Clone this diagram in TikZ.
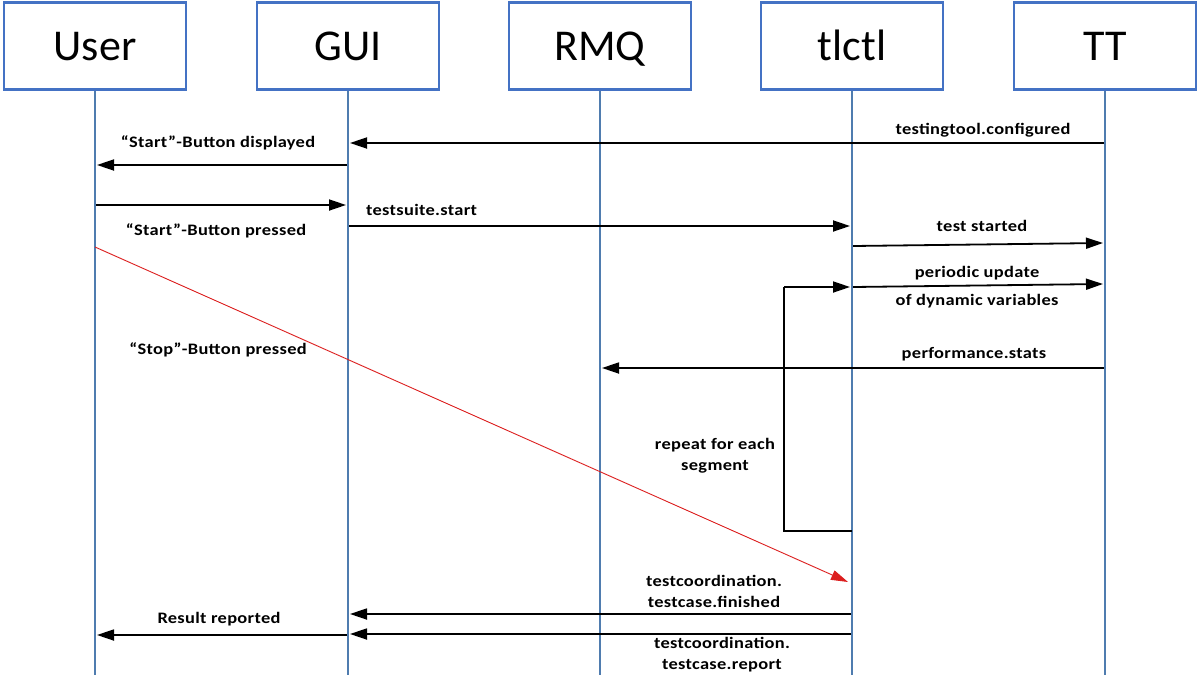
\documentclass[tikz,border=0pt]{standalone}
\usepackage{fontspec}
\setmainfont{Carlito}
\newfontfamily\lblfont[FakeStretch=1.15, LetterSpace=2]{Carlito}
\usetikzlibrary{arrows.meta}
\definecolor{boxblue}{RGB}{68,114,196}
\definecolor{lifeblue}{RGB}{79,124,175}
\definecolor{redline}{RGB}{220,30,30}
\begin{document}
\begin{tikzpicture}[x=1pt,y=-1pt,
  actor/.style={draw=boxblue, line width=2.5pt, fill=white, minimum width=182pt, minimum height=87pt, inner sep=0pt, text height=28pt, text depth=0pt, font=\fontsize{44}{50}\selectfont},
  life/.style={draw=lifeblue, line width=2.6pt},
  msg/.style={draw=black, line width=1.8pt, -{Triangle[length=17pt,width=11pt]}},
  loopline/.style={draw=black, line width=1.6pt},
  stopmsg/.style={draw=redline, line width=0.9pt, -{Triangle[length=17pt,width=10pt]}},
  lbl/.style={font=\lblfont\bfseries\fontsize{16}{19}\selectfont, inner sep=0pt},
]
\useasboundingbox (0,0) rectangle (1199,675);
\fill[white] (0,0) rectangle (1199,675);

% lifelines
\coordinate (userEnd) at (95,675);
\coordinate (guiEnd) at (348,675);
\coordinate (rmqEnd) at (600,675);
\coordinate (tlEnd) at (852,675);
\coordinate (ttEnd) at (1105,675);

\node[actor] (user) at (95,46) {User};
\node[actor] (gui) at (348,46) {GUI};
\node[actor] (rmq) at (600,46) {RMQ};
\node[actor] (tl) at (852,46) {tlctl};
\node[actor] (tt) at (1105,46) {TT};

\draw[life] (user.south) -- (userEnd);
\draw[life] (gui.south) -- (guiEnd);
\draw[life] (rmq.south) -- (rmqEnd);
\draw[life] (tl.south) -- (tlEnd);
\draw[life] (tt.south) -- (ttEnd);

% message endpoints
\coordinate (m1s) at (1104,143); \coordinate (m1e) at (350,143);
\coordinate (m2s) at (347,165); \coordinate (m2e) at (97,165);
\coordinate (m3s) at (96,205);  \coordinate (m3e) at (346,205);
\coordinate (m4s) at (349,226); \coordinate (m4e) at (850,226);
\coordinate (m5s) at (853,246); \coordinate (m5e) at (1103,243);
\coordinate (m6s) at (853,287); \coordinate (m6e) at (1103,284);
\coordinate (lpA) at (852,531); \coordinate (lpB) at (784,531);
\coordinate (lpC) at (784,287); \coordinate (lpD) at (850,287);
\coordinate (m7s) at (1104,368); \coordinate (m7e) at (602,368);
\coordinate (rs) at (95,247);   \coordinate (re) at (848,582);
\coordinate (m8s) at (851,614); \coordinate (m8e) at (350,614);
\coordinate (m9s) at (851,634); \coordinate (m9e) at (350,634);
\coordinate (m10s) at (347,635); \coordinate (m10e) at (97,635);

\draw[msg] (m1s) -- (m1e);
\draw[msg] (m2s) -- (m2e);
\draw[msg] (m3s) -- (m3e);
\draw[msg] (m4s) -- (m4e);
\draw[msg] (m5s) -- (m5e);
\draw[msg] (m6s) -- (m6e);
\draw[loopline] (lpA) -- (lpB) -- (lpC);
\draw[msg] (lpC) -- (lpD);
\draw[msg] (m7s) -- (m7e);
\draw[stopmsg] (rs) -- (re);
\draw[msg] (m8s) -- (m8e);
\draw[msg] (m9s) -- (m9e);
\draw[msg] (m10s) -- (m10e);

% labels
\node[lbl] (l1) at (983,130) {testingtool.configured};
\node[lbl] (l2) at (218,143) {“Start”-Button displayed};
\node[lbl] (l3) at (216,231) {“Start”-Button pressed};
\node[lbl, anchor=west] (l4) at (366,210) {testsuite.start};
\node[lbl] (l5) at (982,226) {test started};
\node[lbl] (l6) at (977,273) {periodic update};
\node[lbl] (l7) at (977,301) {of dynamic variables};
\node[lbl, align=center] (l8) at (715,456) {repeat for each\\[2pt]segment};
\node[lbl] (l9) at (974,354) {performance.stats};
\node[lbl] (l10) at (218,350) {“Stop”-Button pressed};
\node[lbl, align=center] (l11) at (714,591) {testcoordination.\\[2pt]testcase.finished};
\node[lbl] (l12) at (219,619) {Result reported};
\node[lbl, align=center] (l13) at (722,655) {testcoordination.\\[2pt]testcase.report};
\end{tikzpicture}
\end{document}
